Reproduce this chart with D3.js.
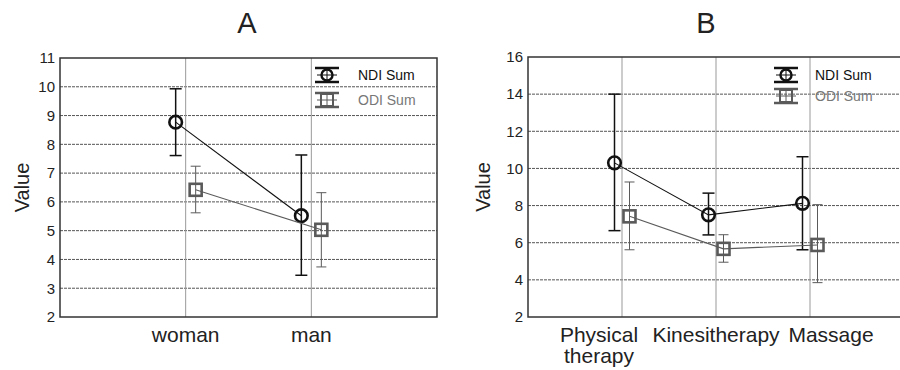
<!DOCTYPE html>
<html>
<head>
<meta charset="utf-8">
<script src="https://cdn.jsdelivr.net/npm/d3@7"></script>
<style>
  body { margin: 0; background: #fff; }
  text { font-family: Arial, "Liberation Sans", sans-serif; fill: #222; }
</style>
</head>
<body>
<svg width="900" height="370"></svg>
<script>
// Panel A data (by gender)
var catsA = ["woman", "man"];
var ndiA = [8.77, 5.52], ndiALo = [7.61, 3.45], ndiAHi = [9.93, 7.63];
var odiA = [6.42, 5.03], odiALo = [5.62, 3.74], odiAHi = [7.24, 6.32];
var ticksA = [2, 3, 4, 5, 6, 7, 8, 9, 10, 11];

// Panel B data (by treatment)
var catsB = [["Physical", "therapy"], ["Kinesitherapy"], ["Massage"]];
var ndiB = [10.3, 7.5, 8.12], ndiBLo = [6.65, 6.42, 5.62], ndiBHi = [14.0, 8.67, 10.63];
var odiB = [7.42, 5.67, 5.88], odiBLo = [5.62, 4.95, 3.85], odiBHi = [9.27, 6.43, 8.05];
var ticksB = [2, 4, 6, 8, 10, 12, 14, 16];

var seriesNames = ["NDI Sum", "ODI Sum"];
var ndiColor = "#111", odiColor = "#5a5a5a";

var svg = d3.select("svg");

function drawPanel(p) {
  var g = svg.append("g");

  var x = d3.scaleLinear().domain([0, p.cats.length + 1]).range([p.left, p.right]);
  var y = d3.scaleLinear().domain([p.ticks[0], p.ticks[p.ticks.length - 1]]).range([p.bottom, p.top]);

  // horizontal grid
  g.selectAll(".hgrid")
    .data(p.ticks.slice(1, -1))
    .enter()
    .append("line")
    .attr("x1", p.left).attr("x2", p.right)
    .attr("y1", d => y(d)).attr("y2", d => y(d))
    .attr("stroke", "#555")
    .attr("stroke-width", 1)
    .attr("stroke-dasharray", "3,1");

  // vertical grid at categories
  g.selectAll(".vgrid")
    .data(p.cats)
    .enter()
    .append("line")
    .attr("x1", (d, i) => x(i + 1)).attr("x2", (d, i) => x(i + 1))
    .attr("y1", p.top).attr("y2", p.bottom)
    .attr("stroke", "#999")
    .attr("stroke-width", 1);

  // frame
  g.append("rect")
    .attr("x", p.left).attr("y", p.top)
    .attr("width", p.right - p.left).attr("height", p.bottom - p.top)
    .attr("fill", "none").attr("stroke", "#333").attr("stroke-width", 1.5);

  // y axis labels
  g.append("g")
    .attr("transform", "translate(" + p.left + ",0)")
    .call(d3.axisLeft(y).tickValues(p.ticks).tickSize(0).tickPadding(5))
    .call(a => a.select(".domain").remove())
    .selectAll("text")
    .style("font-size", "15px")
    .style("font-family", "Arial, 'Liberation Sans', sans-serif")
    .attr("fill", "#222");

  // y title
  g.append("text")
    .attr("transform", "translate(" + p.yTitleX + "," + ((p.top + p.bottom) / 2) + ") rotate(-90)")
    .attr("text-anchor", "middle")
    .attr("dy", "0.35em")
    .style("font-size", "20px")
    .text("Value");

  // panel title
  g.append("text")
    .attr("x", p.titleX).attr("y", 33)
    .attr("text-anchor", "middle")
    .style("font-size", "29px")
    .text(p.title);

  // category labels
  var lab = g.selectAll(".cat")
    .data(p.cats)
    .enter()
    .append("text")
    .attr("text-anchor", "middle")
    .attr("transform", (d, i) => "translate(" + (x(i + 1) + p.labelShift[i]) + ",342)")
    .style("font-size", "21px");
  lab.selectAll("tspan")
    .data(d => [].concat(d))
    .enter()
    .append("tspan")
    .attr("x", 0)
    .attr("dy", (d, i) => i == 0 ? 0 : 21)
    .text(d => d);

  var series = [
    { v: p.ndi, lo: p.ndiLo, hi: p.ndiHi, off: -p.off, color: ndiColor, ew: 1.5, cap: 6, shape: "circle" },
    { v: p.odi, lo: p.odiLo, hi: p.odiHi, off: p.off, color: odiColor, ew: 1, cap: 5, shape: "square" }
  ];

  series.forEach(function(s) {
    var pts = s.v.map((v, i) => ({ cx: x(i + 1) + s.off, v: v, lo: s.lo[i], hi: s.hi[i] }));

    g.append("path")
      .datum(pts)
      .attr("fill", "none")
      .attr("stroke", s.color)
      .attr("stroke-width", 1.1)
      .attr("d", d3.line().x(d => d.cx).y(d => y(d.v)));

    var eb = g.selectAll(null).data(pts).enter().append("g").attr("stroke", s.color).attr("stroke-width", s.ew);
    eb.append("line").attr("x1", d => d.cx).attr("x2", d => d.cx).attr("y1", d => y(d.lo)).attr("y2", d => y(d.hi));
    eb.append("line").attr("x1", d => d.cx - s.cap).attr("x2", d => d.cx + s.cap).attr("y1", d => y(d.lo)).attr("y2", d => y(d.lo));
    eb.append("line").attr("x1", d => d.cx - s.cap).attr("x2", d => d.cx + s.cap).attr("y1", d => y(d.hi)).attr("y2", d => y(d.hi));

    if (s.shape == "circle") {
      g.selectAll(null).data(pts).enter().append("circle")
        .attr("cx", d => d.cx).attr("cy", d => y(d.v)).attr("r", 6.3)
        .attr("fill", "none").attr("stroke", s.color).attr("stroke-width", 2.6);
    } else {
      g.selectAll(null).data(pts).enter().append("rect")
        .attr("x", d => d.cx - 6).attr("y", d => y(d.v) - 6).attr("width", 12).attr("height", 12)
        .attr("fill", "none").attr("stroke", s.color).attr("stroke-width", 2.6);
    }
  });

  // legend
  seriesNames.forEach(function(name, i) {
    var ly = p.legY[i], lx = p.legX;
    var col = i == 0 ? ndiColor : odiColor;
    var lg = g.append("g").attr("stroke", col);
    lg.append("line").attr("x1", lx - 12).attr("x2", lx + 12).attr("y1", ly - 7).attr("y2", ly - 7).attr("stroke-width", 2.5);
    lg.append("line").attr("x1", lx - 12).attr("x2", lx + 12).attr("y1", ly + 7).attr("y2", ly + 7).attr("stroke-width", 2.5);
    lg.append("line").attr("x1", lx - 10).attr("x2", lx + 10).attr("y1", ly).attr("y2", ly).attr("stroke-width", 1);
    lg.append("line").attr("x1", lx).attr("x2", lx).attr("y1", ly - 7).attr("y2", ly + 7).attr("stroke-width", 1);
    if (i == 0) {
      lg.append("circle").attr("cx", lx).attr("cy", ly).attr("r", 5.5).attr("fill", "none").attr("stroke-width", 2.4);
    } else {
      lg.append("rect").attr("x", lx - 6).attr("y", ly - 6).attr("width", 12).attr("height", 12).attr("fill", "none").attr("stroke-width", 2);
    }
    g.append("text")
      .attr("x", p.legTextX).attr("y", ly + 5)
      .style("font-size", "14px")
      .style("fill", i == 0 ? "#111" : "#777")
      .text(name);
  });
}

drawPanel({
  title: "A", titleX: 247, yTitleX: 22,
  left: 60, right: 437, top: 58, bottom: 317,
  cats: catsA, ticks: ticksA, off: 10, labelShift: [0, 0],
  ndi: ndiA, ndiLo: ndiALo, ndiHi: ndiAHi,
  odi: odiA, odiLo: odiALo, odiHi: odiAHi,
  legX: 327, legTextX: 358, legY: [75, 100]
});

drawPanel({
  title: "B", titleX: 706, yTitleX: 483,
  left: 528, right: 904, top: 57, bottom: 317,
  cats: catsB, ticks: ticksB, off: 7.5, labelShift: [-23, 0, 21],
  ndi: ndiB, ndiLo: ndiBLo, ndiHi: ndiBHi,
  odi: odiB, odiLo: odiBLo, odiHi: odiBHi,
  legX: 786, legTextX: 815, legY: [75, 96]
});
</script>
</body>
</html>
